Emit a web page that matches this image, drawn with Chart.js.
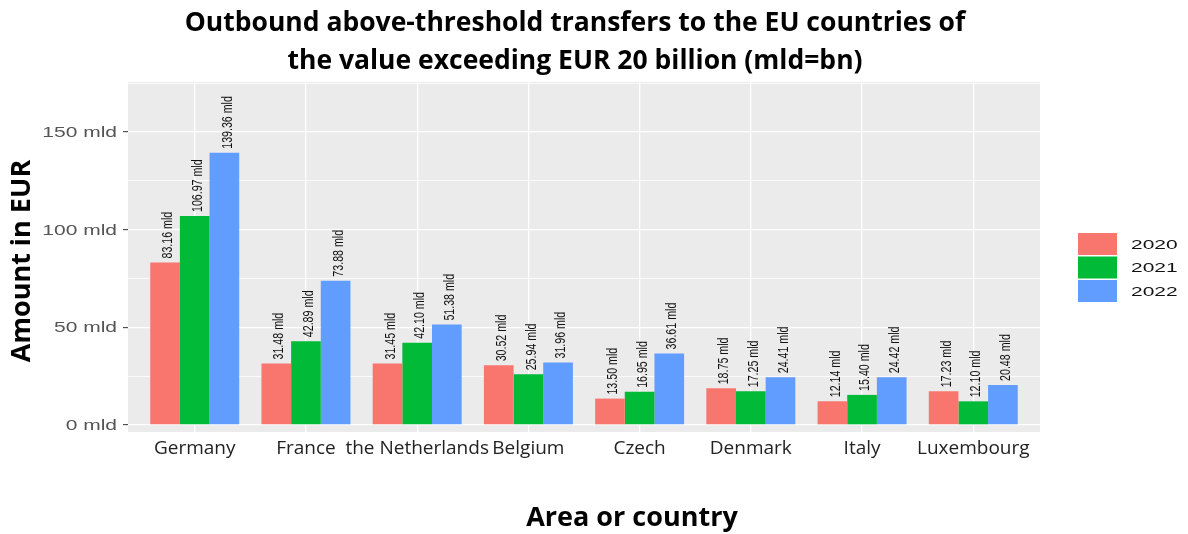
<!DOCTYPE html>
<html>
<head>
<meta charset="utf-8">
<script src="https://cdn.jsdelivr.net/npm/chart.js@4/dist/chart.umd.min.js"></script>
<style>
  html, body { margin: 0; padding: 0; background: #fff; }
  #wrap { width: 1188px; height: 534px; }
</style>
</head>
<body>
<div id="wrap"><canvas id="c" width="1188" height="534"></canvas></div>
<script>
// Outbound above-threshold transfers per country, in billions of EUR (mld)
const categories = ['Germany', 'France', 'the Netherlands', 'Belgium', 'Czech', 'Denmark', 'Italy', 'Luxembourg'];
const years = ['2020', '2021', '2022'];
const values2020 = [83.16, 31.48, 31.45, 30.52, 13.50, 18.75, 12.14, 17.23];
const values2021 = [106.97, 42.89, 42.10, 25.94, 16.95, 17.25, 15.40, 12.10];
const values2022 = [139.36, 73.88, 51.38, 31.96, 36.61, 24.41, 24.42, 20.48];
const yGridValues = [0, 25, 50, 75, 100, 125, 150, 175];
const yTickLabels = [0, 50, 100, 150];
const seriesColors = ['#F8766D', '#00BA38', '#619CFF'];

const titleLines = ['Outbound above-threshold transfers to the EU countries of',
                    'the value exceeding EUR 20 billion (mld=bn)'];
const yTitle = 'Amount in EUR';
const xTitle = 'Area or country';

const seriesValues = [values2020, values2021, values2022];

// draws text widened horizontally by factor sx, anchored at (x, y)
function wideText(ctx, text, x, y, sx, align) {
  ctx.save();
  ctx.translate(x, y);
  ctx.scale(sx, 1);
  ctx.textAlign = align;
  ctx.fillText(text, 0, 0);
  ctx.restore();
}

// Grey panel, value labels, axis labels, titles and legend
const decorations = {
  id: 'decorations',
  beforeDraw(chart) {
    const { ctx, chartArea: a } = chart;
    ctx.save();
    ctx.fillStyle = '#EBEBEB';
    ctx.fillRect(a.left, a.top, a.right - a.left, a.bottom - a.top);
    ctx.restore();
  },
  afterDatasetsDraw(chart) {
    const ctx = chart.ctx;
    ctx.save();
    ctx.fillStyle = '#111';
    ctx.font = '15px "Liberation Sans", Arial, sans-serif';
    ctx.textAlign = 'left';
    ctx.textBaseline = 'middle';
    chart.data.datasets.forEach((ds, d) => {
      const meta = chart.getDatasetMeta(d);
      meta.data.forEach((bar, i) => {
        const v = ds.data[i].y;
        ctx.save();
        ctx.translate(bar.x + 3, bar.y - 4);
        ctx.rotate(-Math.PI / 2);
        ctx.scale(0.71, 1);
        ctx.fillText(v.toFixed(2) + ' mld', 0, 0);
        ctx.restore();
      });
    });
    ctx.restore();
  },
  afterDraw(chart) {
    const { ctx, chartArea: a } = chart;
    const yScale = chart.scales.y;
    ctx.save();

    // y tick labels
    ctx.fillStyle = '#555';
    ctx.font = '14px "Liberation Sans", Arial, sans-serif';
    ctx.textBaseline = 'middle';
    yTickLabels.forEach(v => {
      wideText(ctx, v + ' mld', a.left - 11, yScale.getPixelForValue(v) + 1, 1.5, 'right');
    });

    ctx.fillStyle = '#000';
    ctx.textAlign = 'center';
    ctx.textBaseline = 'middle';

    ctx.font = 'bold 26.5px "Open Sans", sans-serif';
    ctx.fillText(titleLines[0], 575, 23);
    ctx.fillText(titleLines[1], 575, 61);

    ctx.font = 'bold 27px "Open Sans", sans-serif';
    ctx.fillText(xTitle, 632, 518);

    ctx.save();
    ctx.translate(22, 261);
    ctx.rotate(-Math.PI / 2);
    ctx.fillText(yTitle, 0, 0);
    ctx.restore();

    // legend keys
    const keyX = a.right + 38, keyW = 39, keyH = 22, keyGap = 1.5;
    const keyTop = 233;
    ctx.font = '13.5px "Liberation Sans", Arial, sans-serif';
    chart.data.datasets.forEach((ds, k) => {
      const y = keyTop + k * (keyH + keyGap);
      ctx.fillStyle = ds.backgroundColor;
      ctx.fillRect(keyX, y, keyW, keyH);
      ctx.fillStyle = '#111';
      wideText(ctx, ds.label, keyX + keyW + 14, y + keyH / 2 + 1, 1.55, 'left');
    });
    ctx.restore();
  }
};

new Chart(document.getElementById('c'), {
  type: 'bar',
  data: {
    datasets: years.map((yr, k) => ({
      label: yr,
      data: seriesValues[k].map((v, i) => ({ x: i, y: v })),
      backgroundColor: seriesColors[k],
      borderWidth: 0,
      categoryPercentage: 0.8,
      barPercentage: 1.0
    }))
  },
  options: {
    responsive: false,
    animation: false,
    layout: { padding: { left: 0, right: 148, top: 82, bottom: 0 } },
    plugins: {
      legend: { display: false },
      title: { display: false },
      tooltip: { enabled: false }
    },
    scales: {
      x: {
        type: 'linear',
        offset: false,
        min: -0.6,
        max: categories.length - 1 + 0.6,
        afterBuildTicks: s => { s.ticks = categories.map((_, i) => ({ value: i })); },
        afterFit: s => { s.height = 102; },
        ticks: {
          callback: v => categories[v],
          font: { family: 'Open Sans', size: 19 },
          color: '#222',
          padding: 5,
          autoSkip: false,
          maxRotation: 0,
          minRotation: 0
        },
        grid: { color: '#fff', lineWidth: 1.3, drawTicks: false, offset: false },
        border: { display: false }
      },
      y: {
        min: -3.6,
        max: 175.6,
        afterBuildTicks: s => { s.ticks = yGridValues.map(v => ({ value: v })); },
        afterFit: s => { s.width = 128; },
        ticks: {
          // labels are drawn widened by the decorations plugin
          callback: () => '',
          padding: 6
        },
        grid: {
          color: '#fff',
          lineWidth: c => (c.tick && c.tick.value % 50 === 0) ? 1.3 : 0.8,
          tickLength: 5,
          tickWidth: 1,
          tickColor: c => (c.tick && c.tick.value % 50 === 0) ? '#333' : 'rgba(0,0,0,0)'
        },
        border: { display: false }
      }
    }
  },
  plugins: [decorations]
});
</script>
</body>
</html>
